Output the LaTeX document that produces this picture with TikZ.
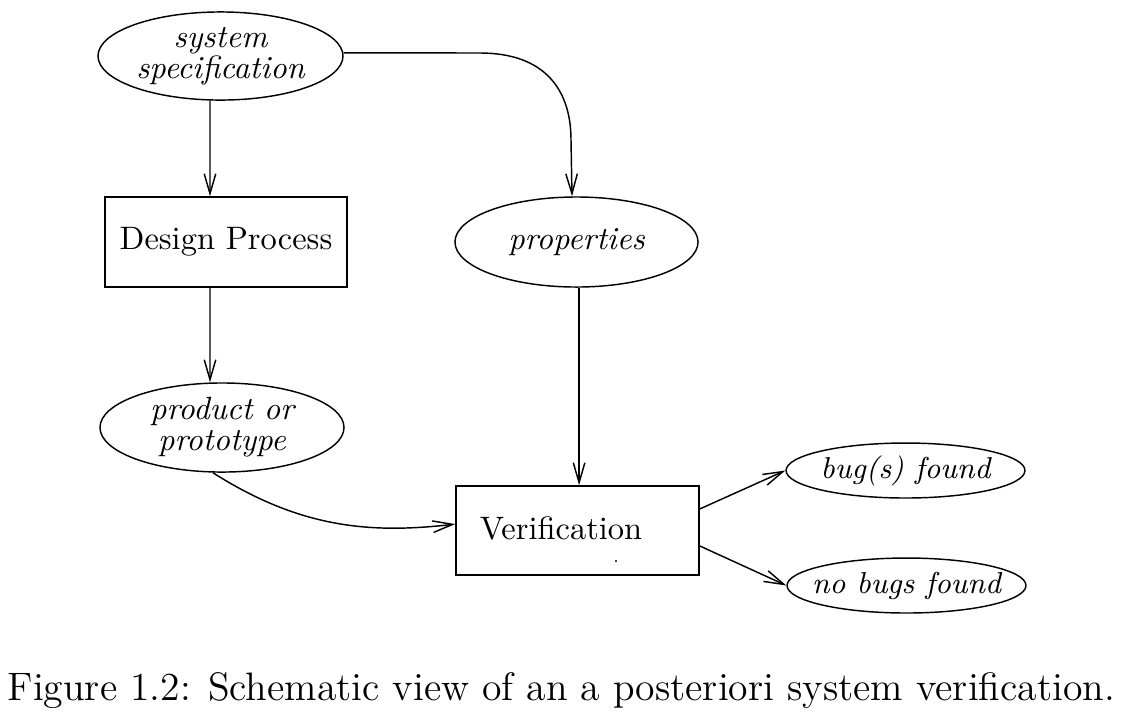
\documentclass[tikz,border=0pt]{standalone}
\usetikzlibrary{arrows.meta,shapes.geometric}
\begin{document}
\begin{tikzpicture}[x=0.311pt,y=-0.311pt,
  line width=0.45pt,
  arr/.style={-{Straight Barb[length=6.2pt,width=3.6pt,line width=0.45pt]}},
  ell/.style={draw,ellipse,inner xsep=-20pt,inner ysep=-4pt,font=\fontsize{10}{9.7}\selectfont\itshape,align=center},
  smallell/.style={ell,font=\fontsize{9.4}{11}\selectfont\itshape},
  boxnode/.style={draw,rectangle,inner sep=0pt,font=\fontsize{10.1}{12}\selectfont}]
\useasboundingbox (0,0) rectangle (1122,716);
\node[ell,minimum width=76.2pt,minimum height=27.4pt] (sys) at (220.5,56) {system\\specification};
\node[boxnode,minimum width=75.3pt,minimum height=28pt] (dp) at (226,242) {Design Process};
\node[ell,minimum width=75.6pt,minimum height=28pt] (prop) at (576.5,242) {properties};
\node[ell,minimum width=75.9pt,minimum height=27.7pt] (prod) at (222,427.5) {product or\\prototype};
\node[boxnode,minimum width=75.6pt,minimum height=27.7pt] (ver) at (577.5,530.5) {};
\node[anchor=base,inner sep=0pt,font=\fontsize{10.1}{12}\selectfont] (vertext) at (561,539) {Verification};
\fill (616,561) circle (0.35pt);
\node[smallell,minimum width=74.3pt,minimum height=17.1pt] (bug) at (905.5,470.5) {bug(s) found};
\node[smallell,minimum width=74.3pt,minimum height=17.1pt] (nobug) at (906.5,585.5) {no bugs found};
\node[anchor=base west,inner sep=0pt,font=\fontsize{12.35}{14}\selectfont] (cap) at (7,700) {Figure 1.2: Schematic view of an a posteriori system verification.};
\draw[arr] ([xshift=-3.27pt]sys.south) -- ([xshift=-4.98pt]dp.north);
\draw[arr] ([xshift=-4.98pt]dp.south) -- ([xshift=-3.73pt]prod.north);
\draw[arr] ([yshift=1pt]sys.east) -- (480,53) .. controls (545,53) and (571,90) .. (571,140) -- ([xshift=-1.4pt]prop.north);
\draw[arr] ([xshift=0.8pt]prop.south) -- ([xshift=0.8pt]prop.south |- ver.north);
\draw[arr] ([xshift=-2.8pt]prod.south) .. controls (300,528) and (370,534) .. ([yshift=2pt]ver.west);
\draw[arr] ([yshift=6.7pt]ver.east) -- (bug.west);
\draw[arr] ([yshift=-4.8pt]ver.east) -- (nobug.west);
\end{tikzpicture}
\end{document}
